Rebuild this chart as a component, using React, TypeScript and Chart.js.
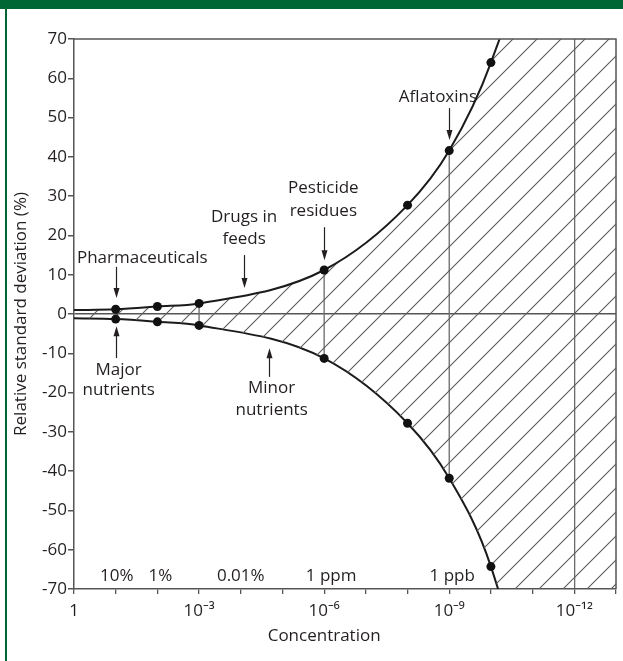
import { useEffect, useRef } from "react";
import { Chart, registerables } from "chart.js";

Chart.register(...registerables);

// Concentration is expressed in decades below 1 (x = 3 means 10^-3).
const pointDecades = [1, 2, 3, 6, 8, 9, 10];
const upperRsd = [1.2, 1.9, 2.7, 11.2, 27.7, 41.6, 64];
const lowerRsd = [-1.3, -2.0, -2.9, -11.3, -27.8, -41.8, -64.3];

// The trumpet curves, traced past the plotted points until they leave the frame.
const curveDecades = [0, 1, 2, 3, 6, 8, 9, 10, 11, 13];
const upperCurve = [1.0, 1.2, 1.9, 2.7, 11.2, 27.7, 41.6, 64, 100, 240];
const lowerCurve = [-1.1, -1.3, -2.0, -2.9, -11.3, -27.8, -41.8, -64.3, -106, -250];

// Paired points joined by a vertical bar, and the full-height reference line.
const barDecades = [3, 6, 9];
const referenceDecade = 12;

const xTickDecades = [0, 3, 6, 9, 12];
const xTickLabels = ["1", "10⁻³", "10⁻⁶", "10⁻⁹", "10⁻¹²"];

const unitLabels = ["10%", "1%", "0.01%", "1 ppm", "1 ppb"];
const unitDecades = [1, 2, 4, 6, 9];

const FONT = '"Open Sans", "Noto Sans", sans-serif';
const TEXT = "#231f20";
const AXIS = "#555555";
const GREEN = "#006633";

const W = 623;
const H = 661;

type Note = {
  lines: string[];
  x: number; // decade of text centre
  y: number[]; // value for each line centre
  align?: CanvasTextAlign;
  arrow: { x: number; from: number; to: number };
};

const notes: Note[] = [
  { lines: ["Pharmaceuticals"], x: 0.07, y: [14.25], align: "left", arrow: { x: 1, from: 12.0, to: 4.1 } },
  { lines: ["Major", "nutrients"], x: 1.07, y: [-14.25, -19.3], arrow: { x: 1, from: -11.2, to: -3.1 } },
  { lines: ["Drugs in", "feeds"], x: 4.08, y: [24.7, 19.1], arrow: { x: 4.07, from: 15.0, to: 6.6 } },
  { lines: ["Pesticide", "residues"], x: 5.98, y: [32.1, 26.2], arrow: { x: 6, from: 22.1, to: 13.7 } },
  { lines: ["Aflatoxins"], x: 8.73, y: [55.2], arrow: { x: 9, from: 52.4, to: 44.3 } },
  { lines: ["Minor", "nutrients"], x: 4.74, y: [-18.8, -24.6], arrow: { x: 4.67, from: -16.0, to: -8.7 } },
];

function makeHatch(size: number): CanvasPattern | string {
  const c = document.createElement("canvas");
  c.width = size;
  c.height = size;
  const g = c.getContext("2d");
  if (!g) return "rgba(0,0,0,0.1)";
  g.strokeStyle = "#5c5c5c";
  g.lineWidth = 1.1;
  g.beginPath();
  g.moveTo(-2, size + 2);
  g.lineTo(size + 2, -2);
  g.moveTo(-2, 2);
  g.lineTo(2, -2);
  g.moveTo(size - 2, size + 2);
  g.lineTo(size + 2, size - 2);
  g.stroke();
  return g.createPattern(c, "repeat") || "rgba(0,0,0,0.1)";
}

const annotationPlugin = {
  id: "trumpetAnnotations",
  afterDatasetsDraw(chart: any) {
    const { ctx, chartArea, scales } = chart;
    const xs = scales.x;
    const ys = scales.y;
    ctx.save();

    // frame: top and right edges
    ctx.strokeStyle = AXIS;
    ctx.lineWidth = 1.5;
    ctx.beginPath();
    ctx.moveTo(chartArea.left, chartArea.top);
    ctx.lineTo(chartArea.right, chartArea.top);
    ctx.lineTo(chartArea.right, chartArea.bottom);
    ctx.stroke();

    ctx.font = `17px ${FONT}`;
    ctx.fillStyle = TEXT;
    ctx.textBaseline = "middle";

    for (const n of notes) {
      ctx.textAlign = n.align || "center";
      const px = xs.getPixelForValue(n.x);
      n.lines.forEach((line, i) => ctx.fillText(line, px, ys.getPixelForValue(n.y[i])));

      const ax = Math.round(xs.getPixelForValue(n.arrow.x)) + 0.5;
      const y0 = ys.getPixelForValue(n.arrow.from);
      const y1 = ys.getPixelForValue(n.arrow.to);
      const dir = y1 > y0 ? 1 : -1;
      ctx.strokeStyle = "#222";
      ctx.lineWidth = 1.2;
      ctx.beginPath();
      ctx.moveTo(ax, y0);
      ctx.lineTo(ax, y1 - dir * 6);
      ctx.stroke();
      ctx.beginPath();
      ctx.moveTo(ax, y1);
      ctx.lineTo(ax - 3, y1 - dir * 10);
      ctx.lineTo(ax + 3, y1 - dir * 10);
      ctx.closePath();
      ctx.fill();
    }

    // concentration units along the bottom of the plot
    ctx.textAlign = "center";
    const unitOffsets = [1, 3, 0, 7, 3];
    unitLabels.forEach((t, i) => {
      ctx.fillText(t, xs.getPixelForValue(unitDecades[i]) + unitOffsets[i], ys.getPixelForValue(-66.7));
    });

    // axis titles
    ctx.fillText("Concentration", xs.getPixelForValue(6), 636);
    ctx.translate(21.5, (chartArea.top + chartArea.bottom) / 2);
    ctx.rotate(-Math.PI / 2);
    ctx.fillText("Relative standard deviation (%)", 0, 0);
    ctx.restore();
  },
};

export default function App() {
  const canvasRef = useRef<HTMLCanvasElement | null>(null);

  useEffect(() => {
    const canvas = canvasRef.current;
    if (!canvas) return;
    const hatch = makeHatch(24);

    const pts = (xv: number[], yv: number[]) => xv.map((x, i) => ({ x, y: yv[i] }));

    const bars = barDecades.map((d) => {
      const i = pointDecades.indexOf(d);
      return {
        type: "line" as const,
        data: [
          { x: d, y: upperRsd[i] },
          { x: d, y: lowerRsd[i] },
        ],
        borderColor: "#6a6a6a",
        borderWidth: 1.3,
        pointRadius: 0,
        fill: false,
      };
    });

    const chart = new Chart(canvas, {
      type: "line",
      data: {
        datasets: [
          {
            data: pts(pointDecades, upperRsd),
            showLine: false,
            pointRadius: 4.5,
            pointBackgroundColor: "#111",
            pointBorderWidth: 0,
          },
          {
            data: pts(pointDecades, lowerRsd),
            showLine: false,
            pointRadius: 4.5,
            pointBackgroundColor: "#111",
            pointBorderWidth: 0,
          },
          {
            data: pts(curveDecades, upperCurve),
            borderColor: "#1b1b1b",
            borderWidth: 2,
            pointRadius: 0,
            cubicInterpolationMode: "monotone",
            fill: "+1",
            backgroundColor: hatch as any,
          },
          {
            data: pts(curveDecades, lowerCurve),
            borderColor: "#1b1b1b",
            borderWidth: 2,
            pointRadius: 0,
            cubicInterpolationMode: "monotone",
            fill: false,
          },
          ...bars,
        ] as any,
      },
      options: {
        animation: false,
        responsive: false,
        events: [],
        layout: { padding: { top: 39, right: 1, left: 0, bottom: 0 } },
        plugins: { legend: { display: false }, tooltip: { enabled: false } },
        scales: {
          x: {
            type: "linear",
            min: 0,
            max: 13,
            border: { color: AXIS, width: 1.5 },
            grid: {
              color: (c: any) => (c.tick && c.tick.value === referenceDecade ? "#6a6a6a" : "transparent"),
              tickColor: AXIS,
              tickLength: 5,
              lineWidth: 1.3,
            },
            ticks: {
              stepSize: 1,
              autoSkip: false,
              maxRotation: 0,
              padding: 7,
              color: TEXT,
              font: { family: FONT, size: 17 },
              callback: (v: any) => {
                const i = xTickDecades.indexOf(Number(v));
                return i >= 0 ? xTickLabels[i] : "";
              },
            },
            afterFit: (s: any) => {
              s.height = H - 589;
            },
          },
          y: {
            min: -70,
            max: 70,
            border: { color: AXIS, width: 1.5 },
            grid: {
              color: (c: any) => (c.tick && c.tick.value === 0 ? AXIS : "transparent"),
              tickColor: AXIS,
              tickLength: 6,
              lineWidth: 1.5,
            },
            ticks: {
              stepSize: 10,
              padding: 1,
              color: TEXT,
              font: { family: FONT, size: 17 },
            },
            afterFit: (s: any) => {
              s.width = 74;
            },
          },
        },
      },
      plugins: [annotationPlugin],
    });

    return () => chart.destroy();
  }, []);

  return (
    <div style={{ position: "absolute", left: 0, top: 0, width: W, height: H, background: "#fff", overflow: "hidden" }}>
      <div style={{ position: "absolute", left: 0, top: 0, width: W, height: 9, background: GREEN }} />
      <div style={{ position: "absolute", left: 5, top: 0, width: 2, height: H, background: GREEN }} />
      <canvas ref={canvasRef} width={W} height={H} style={{ position: "absolute", left: 0, top: 0 }} />
    </div>
  );
}
